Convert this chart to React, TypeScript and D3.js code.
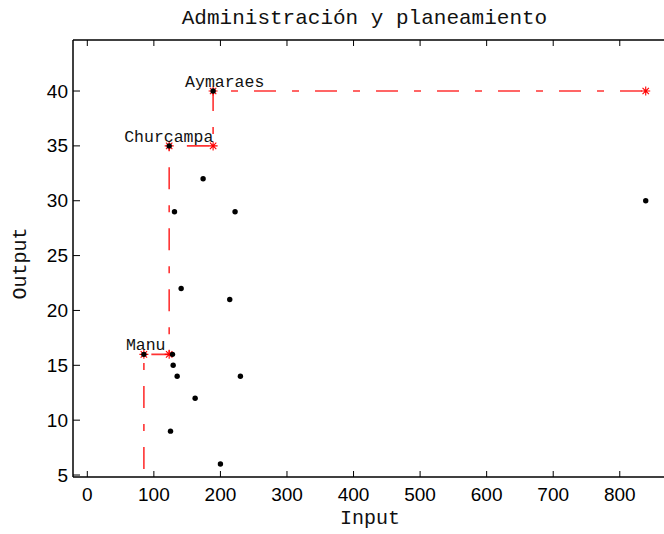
import React from "react";
import * as d3 from "d3";

// Decision-making units: input consumed vs. output produced
const unitInputs = [189, 123, 85, 174, 131, 222, 141, 214, 128, 129, 135, 162, 230, 125, 200, 839];
const unitOutputs = [40, 35, 16, 32, 29, 29, 22, 21, 16, 15, 14, 12, 14, 9, 6, 30];
// Names of the first units (those lying on the frontier)
const unitNames = ["Aymaraes", "Churcampa", "Manu"];

// Staircase frontier corners (first point runs off the bottom of the axes)
const frontierInputs = [85, 85, 123, 123, 189, 189, 839];
const frontierOutputs = [0, 16, 16, 35, 35, 40, 40];

const xTicks = [0, 100, 200, 300, 400, 500, 600, 700, 800];
const yTicks = [5, 10, 15, 20, 25, 30, 35, 40];

const titleText = "Administración y planeamiento";
const xLabel = "Input";
const yLabel = "Output";

const W = 664;
const H = 534;
const left = 73;
const top = 40;
const bottom = 477;
const right = 680;

const mono = "'Liberation Mono', 'DejaVu Sans Mono', monospace";
const sans = "'Liberation Sans', Arial, sans-serif";

function Star({ x, y }: { x: number; y: number }) {
  const r = 4.5;
  const d = 3.2;
  return (
    <path
      transform={`translate(${x},${y})`}
      d={`M${-r},0L${r},0M0,${-r}L0,${r}M${-d},${-d}L${d},${d}M${-d},${d}L${d},${-d}`}
      stroke="#ff0000"
      strokeWidth={1.1}
      fill="none"
    />
  );
}

export default function App() {
  const x = d3.scaleLinear().domain([-21.5, 890.5]).range([left, right]);
  const y = d3.scaleLinear().domain([4.82, 44.65]).range([bottom, top]);

  const frontier = frontierInputs.map((v, i) => [v, frontierOutputs[i]] as [number, number]);
  const line = d3
    .line<[number, number]>()
    .x((d) => x(d[0]))
    .y((d) => y(d[1]));

  // label placement relative to each named unit
  const labelDx = [-28, -45, -18];

  return (
    <svg
      width={W}
      height={H}
      style={{ position: "absolute", left: 0, top: 0, background: "#fff" }}
    >
      <defs>
        <clipPath id="plot">
          <rect x={left} y={top} width={right - left} height={bottom - top} />
        </clipPath>
      </defs>
      <rect x={0} y={0} width={W} height={H} fill="#fff" />

      {/* frontier */}
      <g clipPath="url(#plot)">
        <path
          d={line(frontier) || ""}
          fill="none"
          stroke="#ff3333"
          strokeWidth={1.6}
          strokeDasharray="22,16,7,16"
        />
      </g>
      {frontier.slice(1).map((p, i) => (
        <Star key={i} x={x(p[0])} y={y(p[1])} />
      ))}

      {/* units */}
      {unitInputs.map((v, i) => (
        <circle key={i} cx={x(v)} cy={y(unitOutputs[i])} r={2.7} fill="#000" />
      ))}

      {unitNames.map((name, i) => (
        <text
          key={name}
          x={x(unitInputs[i]) + labelDx[i]}
          y={y(unitOutputs[i]) - 4}
          fontFamily={mono}
          fontSize={16.5}
          fill="#111"
        >
          {name}
        </text>
      ))}

      {/* axes frame */}
      <g stroke="#000" strokeWidth={1.5} fill="none">
        <line x1={left} y1={top} x2={left} y2={bottom} />
        <line x1={left} y1={bottom} x2={right} y2={bottom} />
        <line x1={left} y1={top} x2={right} y2={top} />
      </g>
      <g stroke="#000" strokeWidth={1}>
        {xTicks.map((t) => (
          <g key={t}>
            <line x1={x(t)} x2={x(t)} y1={bottom} y2={bottom - 6} />
            <line x1={x(t)} x2={x(t)} y1={top} y2={top + 6} />
          </g>
        ))}
        {yTicks.map((t) => (
          <line key={t} x1={left} x2={left + 7} y1={y(t)} y2={y(t)} />
        ))}
      </g>
      <g fontFamily={sans} fontSize={19} fill="#000">
        {xTicks.map((t) => (
          <text key={t} x={x(t)} y={bottom + 24} textAnchor="middle">
            {t}
          </text>
        ))}
        {yTicks.map((t) => (
          <text key={t} x={left - 5} y={y(t)} textAnchor="end" dominantBaseline="central">
            {t}
          </text>
        ))}
      </g>

      <text x={364.5} y={24} textAnchor="middle" fontFamily={mono} fontSize={21} fill="#111">
        {titleText}
      </text>
      <text x={370} y={524} textAnchor="middle" fontFamily={mono} fontSize={20} fill="#111">
        {xLabel}
      </text>
      <text
        transform={`translate(26,${(top + bottom) / 2 + 5}) rotate(-90)`}
        textAnchor="middle"
        fontFamily={mono}
        fontSize={20}
        fill="#111"
      >
        {yLabel}
      </text>
    </svg>
  );
}
